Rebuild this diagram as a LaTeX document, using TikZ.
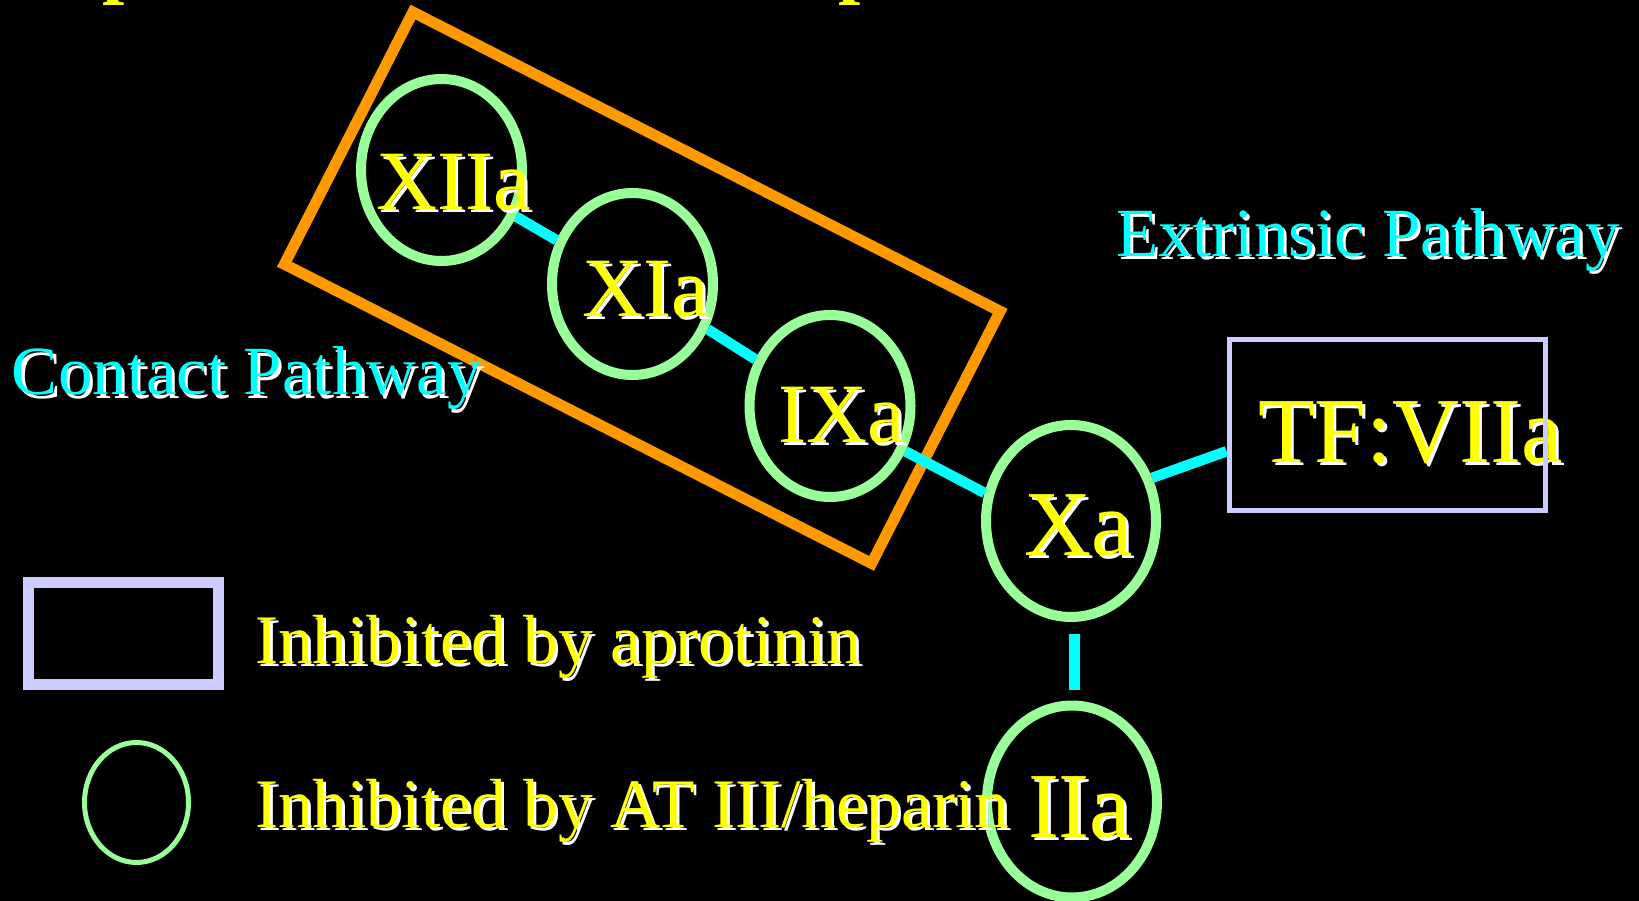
\documentclass[tikz,border=0pt]{standalone}
\usepackage{fontspec}
\setmainfont{Liberation Serif}
\usetikzlibrary{shapes.geometric}
\definecolor{ryellow}{RGB}{255,255,0}
\definecolor{rcyan}{RGB}{0,255,255}
\definecolor{rgreen}{RGB}{153,255,153}
\definecolor{rlav}{RGB}{204,204,255}
\definecolor{rorange}{RGB}{255,153,0}
\tikzset{
  ring/.style={ellipse, draw=rgreen, line width=10pt, inner sep=0pt,
               minimum width=161pt, minimum height=182pt},
  bigring/.style={ring, minimum width=170pt, minimum height=192pt},
  smallring/.style={ring, line width=5pt, minimum width=104pt, minimum height=120pt},
  conn/.style={draw=rcyan, line width=10.5pt},
  lab/.style={anchor=base west, inner sep=0pt, outer sep=0pt, text=ryellow},
  fnode/.style={lab, font=\fontsize{84.5}{90}\selectfont},
  fbig/.style={lab, font=\fontsize{93}{100}\selectfont},
  ftext/.style={lab, font=\fontsize{69.5}{75}\selectfont},
  fpath/.style={lab, text=rcyan, font=\fontsize{69}{75}\selectfont},
}
\newcommand\shtxt[5]{%
  \node[#1, text=white] (#2s) at (#3+3,#4+3) {#5};
  \node[#1] (#2) at (#3,#4) {#5};}
\begin{document}
\begin{tikzpicture}[x=1pt, y=-1pt]
\useasboundingbox (0,0) rectangle (1639,901);
\fill[black] (0,0) rectangle (1639,901);
\clip (0,0) rectangle (1639,901);
% cut-off title fragments
\node[lab, font=\bfseries\fontsize{80}{90}\selectfont] (tp1) at (102,-11.6) {p};
\node[lab, font=\bfseries\fontsize{80}{90}\selectfont] (tp2) at (838,-11.6) {p};
% aprotinin group
\node[draw=rorange, line width=11pt, inner sep=0pt, minimum width=659pt,
      minimum height=283pt, rotate=-27] (apro) at (642.25,287.75) {};
% rings
\node[ring] (xiia) at (441.5,170) {};
\node[ring] (xia) at (632.5,284) {};
\node[ring] (ixa) at (830,406) {};
\node[bigring] (xa) at (1071,521) {};
\node[bigring] (iia) at (1072,801.5) {};
\node[smallring] (lring) at (136.5,802.5) {};
% texts
\shtxt{fnode}{txiia}{376}{210}{XIIa}
\shtxt{fnode}{txia}{582}{317}{XIa}
\shtxt{fnode}{tixa}{778}{442}{IXa}
\shtxt{fbig}{txa}{1024}{555}{Xa}
\shtxt{fbig}{tiia}{1028}{837}{IIa}
\shtxt{fbig}{ttf}{1258}{462}{TF:VIIa}
\shtxt{fpath}{text}{1116}{257}{Extrinsic Pathway}
\shtxt{fpath}{tcon}{12}{395}{Contact Pathway}
\shtxt{ftext}{tleg1}{255}{663}{Inhibited by aprotinin}
\shtxt{ftext}{tleg2}{255}{827}{Inhibited by AT III/heparin}
% boxes
\node[draw=rlav, line width=5pt, inner sep=0pt, minimum width=316pt,
      minimum height=170.5pt] (tf) at (1387,425.25) {};
\node[draw=rlav, line width=11pt, inner sep=0pt, minimum width=190pt,
      minimum height=101.5pt] (lbox) at (123.5,633.25) {};
% connectors
\draw[conn] (xiia.-32) -- (xia.150);
\draw[conn] (xia.-31) -- (ixa.148);
\draw[conn] (ixa.-31) -- (xa.162);
\draw[conn] (xa.28) -- ([yshift=-26pt]tf.west);
\draw[conn, shorten <=12pt, shorten >=11pt] ([xshift=3.5pt]xa.south) -- ([xshift=2.5pt]iia.north);
\end{tikzpicture}
\end{document}
